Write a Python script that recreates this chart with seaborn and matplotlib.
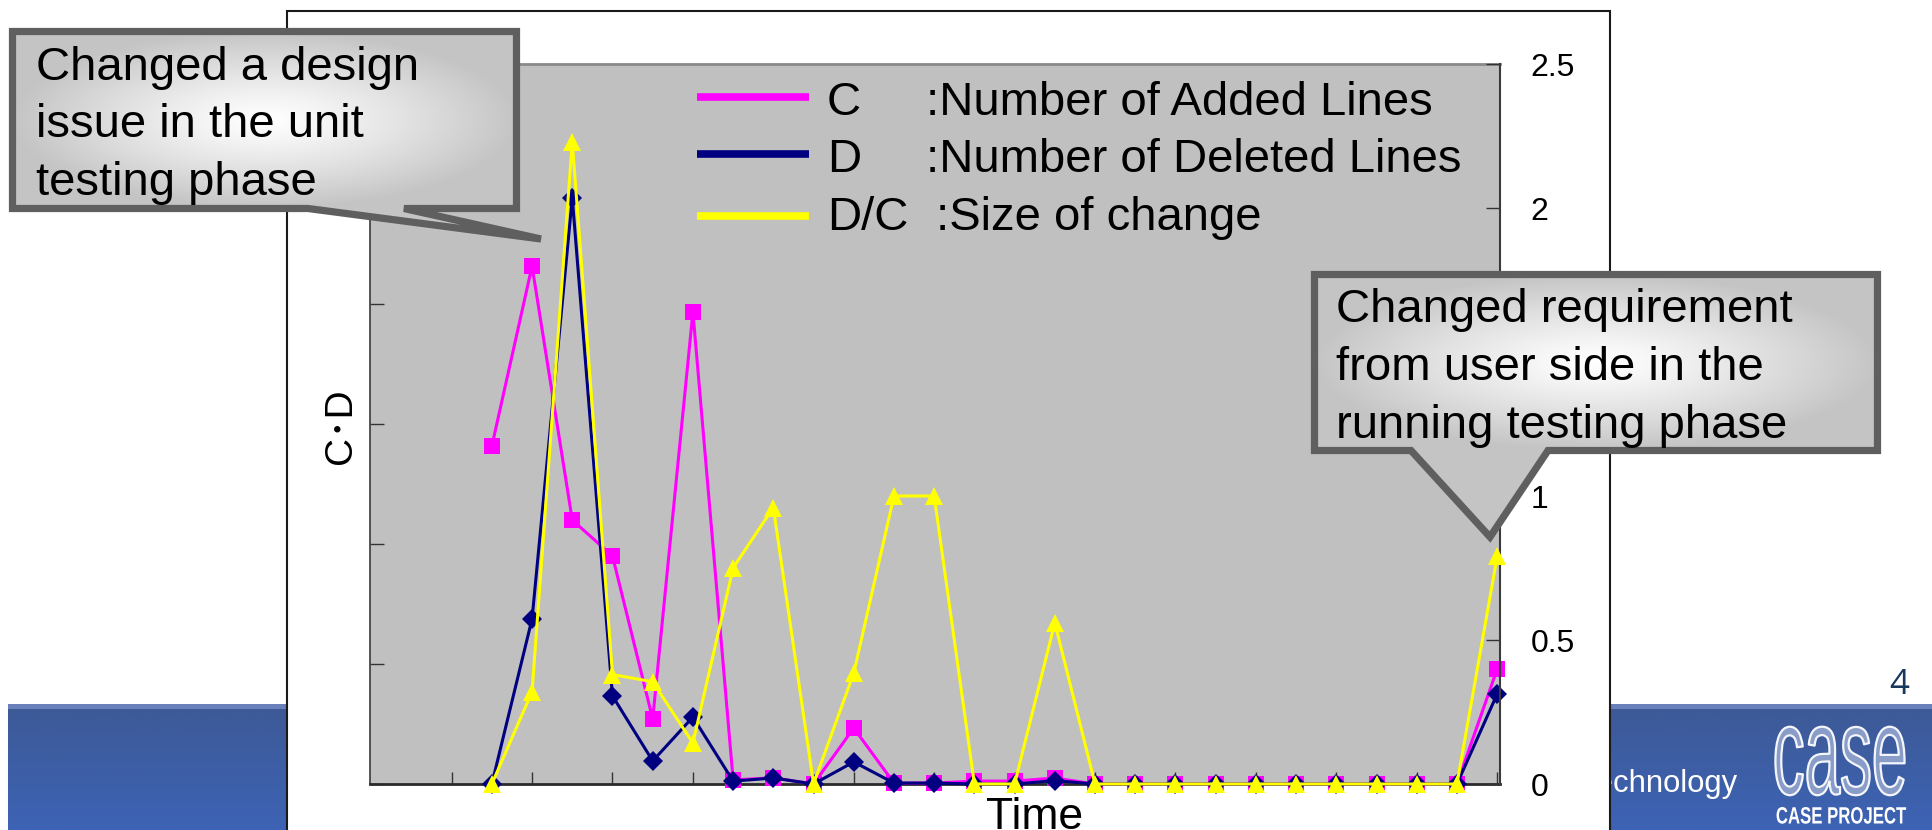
import numpy as np
import pandas as pd
import matplotlib
matplotlib.use("Agg")
import matplotlib.pyplot as plt
import seaborn as sns
from matplotlib.patches import Rectangle, Polygon
from matplotlib.lines import Line2D
from matplotlib.transforms import Affine2D
from matplotlib.patheffects import AbstractPathEffect

# ---------------- data ----------------
period = list(range(26))
added_lines = [1408, 2158, 1100, 950, 271, 1967, 17, 26, 0, 233, 4, 4, 12, 12, 25,
               0, 0, 0, 0, 0, 0, 0, 0, 0, 0, 479]
deleted_lines = [0, 688, 2442, 367, 96, 279, 12, 25, 0, 92, 4, 4, 0, 0, 14,
                 0, 0, 0, 0, 0, 0, 0, 0, 0, 0, 375]
change_size = [0, 0.32, 2.23, 0.38, 0.355, 0.142, 0.75, 0.96, 0, 0.385, 1.0, 1.0, 0, 0, 0.56,
               0, 0, 0, 0, 0, 0, 0, 0, 0, 0, 0.79]

series_keys = ["C", "D", "D/C"]
series_desc = [":Number of Added Lines", ":Number of Deleted Lines", ":Size of change"]
series_colors = ["#FF00FF", "#000080", "#FFFF00"]

rate_ticks = [0, 0.5, 1, 1.5, 2, 2.5]
rate_ticklabels = ["0", "0.5", "1", "1.5", "2", "2.5"]
count_ticks = [0, 500, 1000, 1500, 2000, 2500, 3000]
time_ticks = list(range(-1, 26, 2))

note_design = ["Changed a design", "issue in the unit", "testing phase"]
note_request = ["Changed requirement", "from user side in the", "running testing phase"]

footer_text = "Technology"
page_number = "4"
logo_word = "case"
logo_caption = "CASE PROJECT"

# ---------------- style ----------------
sns.set_theme(style="white")
plt.rcParams["font.family"] = ["Liberation Sans", "Noto Sans CJK JP"]
plt.rcParams["text.color"] = "black"
plt.rcParams["axes.labelcolor"] = "black"
plt.rcParams["xtick.color"] = "black"
plt.rcParams["ytick.color"] = "black"

W, H = 1932, 830
fig = plt.figure(figsize=(W / 100, H / 100), dpi=100)
fig.patch.set_facecolor("white")


class Squeeze(AbstractPathEffect):
    """Scale glyph outlines about a point (display pixels), optional outline stroke."""

    def __init__(self, sx, sy, cx, cy, stroke=None, stroke_width=0.0):
        super().__init__()
        self._t = Affine2D().translate(-cx, -cy).scale(sx, sy).translate(cx, cy)
        self._stroke = stroke
        self._sw = stroke_width

    def draw_path(self, renderer, gc, tpath, affine, rgbFace=None):
        aff = affine + self._t
        renderer.draw_path(gc, tpath, aff, rgbFace)
        if self._stroke is not None:
            gc0 = renderer.new_gc()
            gc0.copy_properties(gc)
            gc0.set_foreground(self._stroke)
            gc0.set_linewidth(self._sw)
            renderer.draw_path(gc0, tpath, aff, None)
            gc0.restore()


# ---------------- slide background ----------------
bg = fig.add_axes([0, 0, 1, 1], zorder=-5)
bg.set_xlim(0, W)
bg.set_ylim(H, 0)
bg.axis("off")

top_c = np.array([0x3d, 0x5a, 0x97]) / 255
bot_c = np.array([0x3d, 0x63, 0xb4]) / 255
g = np.linspace(0, 1, 200)[:, None, None]
band = top_c * (1 - g) + bot_c * g
bg.imshow(band, extent=(8, W, 830, 708), origin="upper", aspect="auto", zorder=1)
bg.add_patch(Rectangle((8, 704), W - 8, 4.5, facecolor="#6a80ba", edgecolor="none", zorder=1.5))
bg.text(1737, 792, footer_text, color="white", fontsize=22.3, ha="right", va="baseline", zorder=2)
bg.text(1899, 685, page_number, color="#17375e", fontsize=25, ha="center", va="center",
        family="Open Sans", zorder=2)
bg.text(1840, 762, logo_word, color="#8a9cc8", fontsize=90, ha="center", va="center", zorder=2,
        path_effects=[Squeeze(0.51, 1.0, 1840, H - 762, stroke="#f4f6fb", stroke_width=1.6)])
bg.text(1841, 817, logo_caption, color="white", fontsize=17, fontweight="bold", ha="center",
        va="center", zorder=2, path_effects=[Squeeze(0.71, 1.0, 1841, H - 817)])
bg.add_patch(Rectangle((287, 11), 1610 - 287, 840, facecolor="white", edgecolor="#1a1a1a",
                       linewidth=1.5, zorder=3))
bg.set_xlim(0, W)
bg.set_ylim(H, 0)

# ---------------- chart ----------------
ax = fig.add_axes([370 / W, 1 - 784 / H, 1130 / W, 720 / H], zorder=1)
ax.set_facecolor("#c0c0c0")
ax2 = ax.twinx()
ax2.set_zorder(2)
ax2.patch.set_visible(False)

df = pd.DataFrame({"period": period, "added": added_lines,
                   "deleted": deleted_lines, "size": change_size})

sns.lineplot(data=df, x="period", y="added", ax=ax, color=series_colors[0], marker="s",
             markersize=11, markeredgewidth=0, markeredgecolor=series_colors[0],
             linewidth=2.2, clip_on=False, zorder=3)
sns.lineplot(data=df, x="period", y="deleted", ax=ax, color=series_colors[1], marker="D",
             markersize=9.8, markeredgewidth=0, markeredgecolor=series_colors[1],
             linewidth=2.2, clip_on=False, zorder=4)
sns.lineplot(data=df, x="period", y="size", ax=ax2, color=series_colors[2], marker="^",
             markersize=13.2, markeredgewidth=0, markeredgecolor=series_colors[2],
             linewidth=2.2, clip_on=False, zorder=5)

ax.set_xlim(-3.03, 25.07)
ax.set_ylim(0, 3000)
ax.set_yticks(count_ticks)
ax.set_yticklabels([])
ax.set_xticks(time_ticks)
ax.set_xticklabels([])
ax2.set_ylim(0, 2.5)
ax2.set_yticks(rate_ticks)
ax2.set_yticklabels(rate_ticklabels)

ax.tick_params(axis="y", direction="in", length=10, width=1.0, color="#333333",
               left=True, right=False, labelleft=False)
ax.tick_params(axis="x", direction="in", length=9, width=1.0, color="#333333",
               bottom=True, top=False, labelbottom=False)
ax2.tick_params(axis="y", direction="in", length=10, width=1.0, color="#333333",
                right=True, left=False, labelright=True, labelleft=False,
                pad=22, labelsize=23, labelcolor="black")

ax.spines["left"].set(color="#3a3a3a", linewidth=1.2)
ax.spines["bottom"].set(color="#2a2a2a", linewidth=2.0)
ax.spines["top"].set(color="#8a8a8a", linewidth=2.0)
ax.spines["right"].set_visible(False)
for s in ["left", "top", "bottom"]:
    ax2.spines[s].set_visible(False)
ax2.spines["right"].set(color="#3a3a3a", linewidth=1.5)

ax2.set_ylabel("")
ax2.set_xlabel("")
ax.set_xlabel("Time", fontsize=32, labelpad=0, color="black")
ax.xaxis.set_label_coords((1035 - 370) / 1130, (784 - 797) / 720)
ax.set_ylabel("C\uFF65D", fontsize=28, color="black")
ax.yaxis.label.set(va="center", rotation_mode="anchor")
ax.yaxis.set_label_coords((341 - 370) / 1130, (784 - 426) / 720)

# ---------------- legend and callouts ----------------
ov = fig.add_axes([0, 0, 1, 1], zorder=10)
ov.axis("off")
ov.set_xlim(0, W)
ov.set_ylim(H, 0)

legend_line_y = [97, 154, 216]
legend_base_y = [115, 172, 230]
legend_desc_x = [926, 926, 936]
for key, desc, col, ly, by, dx in zip(series_keys, series_desc, series_colors,
                                      legend_line_y, legend_base_y, legend_desc_x):
    ov.add_line(Line2D([697, 809], [ly, ly], color=col, linewidth=5.5,
                       solid_capstyle="butt", zorder=3))
    ov.text(827, by, key, fontsize=34, ha="left", va="baseline", color="black", zorder=3)
    ov.text(dx, by, desc, fontsize=34, ha="left", va="baseline", color="black", zorder=3)


def draw_callout(axo, verts, box, lines, tx, baselines):
    poly = Polygon(verts, closed=True, facecolor="none", edgecolor="#5f5f5f",
                   linewidth=5.2, joinstyle="miter", zorder=6)
    axo.add_patch(poly)
    xs = [v[0] for v in verts]
    ys = [v[1] for v in verts]
    x0, x1 = min(xs) - 4, max(xs) + 4
    y0, y1 = min(ys) - 4, max(ys) + 4
    nx, ny = int(x1 - x0), int(y1 - y0)
    X, Y = np.meshgrid(np.linspace(x0, x1, nx), np.linspace(y0, y1, ny))
    bx0, by0, bx1, by1 = box
    cx, cy = (bx0 + bx1) / 2, (by0 + by1) / 2
    rx, ry = (bx1 - bx0) / 2, (by1 - by0) / 2
    r = np.clip(np.hypot((X - cx) / rx, (Y - cy) / ry), 0, 1)
    shade = 1.0 - (1 - 0.77) * r ** 1.2
    img = np.dstack([shade] * 3)
    im = axo.imshow(img, extent=(x0, x1, y1, y0), origin="upper", aspect="auto",
                    interpolation="bilinear", zorder=5)
    im.set_clip_path(poly)
    for line, b in zip(lines, baselines):
        axo.text(tx, b, line, fontsize=34, ha="left", va="baseline", color="black", zorder=7)


draw_callout(ov,
             [(12.5, 31.5), (516.5, 31.5), (516.5, 208.5), (404, 208.5), (541, 239),
              (308, 208.5), (12.5, 208.5)],
             (12.5, 31.5, 516.5, 208.5), note_design, 36, [80, 137, 195])
draw_callout(ov,
             [(1314.5, 274.5), (1877.5, 274.5), (1877.5, 450.5), (1548, 450.5),
              (1490, 537), (1411, 450.5), (1314.5, 450.5)],
             (1314.5, 274.5, 1877.5, 450.5), note_request, 1336, [322, 380, 438])
ov.set_xlim(0, W)
ov.set_ylim(H, 0)

fig.savefig("out.png", dpi=100)
